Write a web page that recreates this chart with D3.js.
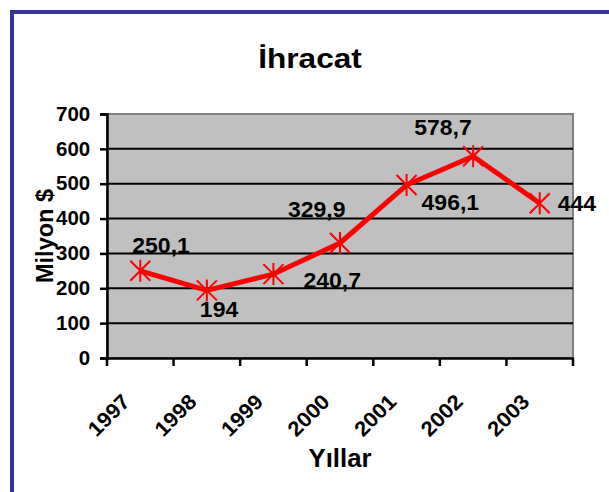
<!DOCTYPE html>
<html>
<head>
<meta charset="utf-8">
<script src="https://cdn.jsdelivr.net/npm/d3@7"></script>
<style>
  body { margin: 0; background: #fff; }
  text { font-family: "Liberation Sans", Arial, sans-serif; font-weight: bold; fill: #000; }
</style>
</head>
<body>
<div id="chart"></div>
<script>
(function () {
  "use strict";

  /***** Données *****/
  var years = ["1997", "1998", "1999", "2000", "2001", "2002", "2003"];
  var exports = [250.1, 194, 240.7, 329.9, 496.1, 578.7, 444];
  var labels = ["250,1", "194", "240,7", "329,9", "496,1", "578,7", "444"];
  var yTicks = [0, 100, 200, 300, 400, 500, 600, 700];

  // décalage des étiquettes (placées à la main dans l'original)
  var labelOffsets = [[-8, -18], [-7, 27], [30, 14], [-52, -26], [15, 25], [-59, -21], [18, 8]];

  /***** Configuration *****/
  var W = 609, H = 492;
  var plot = {left: 107, top: 114, right: 573, bottom: 358};

  var svg = d3.select("#chart").append("svg")
    .attr("width", W)
    .attr("height", H);

  // cadre bleu
  svg.append("rect")
    .attr("x", 12).attr("y", 12)
    .attr("width", 640).attr("height", 520)
    .attr("fill", "none")
    .attr("stroke", "#333399")
    .attr("stroke-width", 4);

  var x = d3.scaleBand()
    .domain(years)
    .range([plot.left, plot.right]);

  var y = d3.scaleLinear()
    .domain([0, 700])
    .range([plot.bottom, plot.top]);

  // fond gris
  svg.append("rect")
    .attr("x", plot.left).attr("y", plot.top)
    .attr("width", plot.right - plot.left)
    .attr("height", plot.bottom - plot.top)
    .attr("fill", "#c0c0c0")
    .attr("stroke", "#808080")
    .attr("stroke-width", 2);

  // lignes de grille
  svg.append("g")
    .selectAll("line")
    .data(yTicks.filter(function (d) { return d > 0 && d < 700; }))
    .join("line")
    .attr("x1", plot.left).attr("x2", plot.right)
    .attr("y1", function (d) { return y(d); })
    .attr("y2", function (d) { return y(d); })
    .attr("stroke", "#000")
    .attr("stroke-width", 2);

  // axe Y
  var yAxis = svg.append("g")
    .attr("transform", "translate(" + plot.left + ",0)")
    .call(d3.axisLeft(y).tickValues(yTicks).tickSize(7).tickPadding(9));
  yAxis.select(".domain").attr("stroke", "#000").attr("stroke-width", 2.5);
  yAxis.selectAll(".tick line").attr("stroke", "#000").attr("stroke-width", 2.5);
  yAxis.selectAll(".tick text")
    .attr("transform", "scale(1.05,1)")
    .style("font-size", "19.5px")
    .style("font-family", "'Liberation Sans', Arial, sans-serif")
    .style("font-weight", "bold");

  // axe X
  var xAxis = svg.append("g")
    .attr("transform", "translate(0," + plot.bottom + ")")
    .call(d3.axisBottom(x).tickSize(0).tickFormat(""));
  xAxis.select(".domain").attr("stroke", "#000").attr("stroke-width", 2.5);

  svg.append("g")
    .selectAll("line")
    .data(years.concat(["end"]))
    .join("line")
    .attr("x1", function (d, i) { return plot.left + i * x.step(); })
    .attr("x2", function (d, i) { return plot.left + i * x.step(); })
    .attr("y1", plot.bottom)
    .attr("y2", plot.bottom + 8)
    .attr("stroke", "#000")
    .attr("stroke-width", 2.5);

  svg.append("g")
    .selectAll("text")
    .data(years)
    .join("text")
    .attr("transform", function (d) {
      return "translate(" + (x(d) + x.bandwidth() / 2 - 9) + "," + 403 + ") rotate(-45) scale(1.05,1)";
    })
    .attr("text-anchor", "end")
    .style("font-size", "21px")
    .text(function (d) { return d; });

  // titres
  svg.append("text")
    .attr("transform", "translate(310,68) scale(1.17,1)")
    .attr("text-anchor", "middle")
    .style("font-size", "27px")
    .text("İhracat");

  svg.append("text")
    .attr("transform", "translate(53," + ((plot.top + plot.bottom) / 2) + ") rotate(-90)")
    .attr("text-anchor", "middle")
    .style("font-size", "23.5px")
    .text("Milyon $");

  svg.append("text")
    .attr("transform", "translate(" + ((plot.left + plot.right) / 2) + ",467) scale(1.03,1)")
    .attr("text-anchor", "middle")
    .style("font-size", "25px")
    .text("Yıllar");

  /***** Série *****/
  var pts = exports.map(function (v, i) {
    return [x(years[i]) + x.bandwidth() / 2, y(v)];
  });

  svg.append("path")
    .datum(pts)
    .attr("d", d3.line())
    .attr("fill", "none")
    .attr("stroke", "#ff0000")
    .attr("stroke-width", 5)
    .attr("stroke-linejoin", "round");

  // marqueurs en étoile
  var r = 10;
  var star = "M" + (-r) + "," + (-r) + "L" + r + "," + r +
             "M" + (-r) + "," + r + "L" + r + "," + (-r) +
             "M0," + (-r - 1) + "L0," + (r + 1);
  svg.append("g")
    .selectAll("path")
    .data(pts)
    .join("path")
    .attr("transform", function (d) { return "translate(" + d[0] + "," + d[1] + ")"; })
    .attr("d", star)
    .attr("stroke", "#ff0000")
    .attr("stroke-width", 2)
    .attr("fill", "none");

  // étiquettes de données
  svg.append("g")
    .selectAll("text")
    .data(labels)
    .join("text")
    .attr("transform", function (d, i) {
      return "translate(" + (pts[i][0] + labelOffsets[i][0]) + "," + (pts[i][1] + labelOffsets[i][1]) + ") scale(1.07,1)";
    })
    .style("font-size", "21.5px")
    .text(function (d) { return d; });
})();
</script>
</body>
</html>
